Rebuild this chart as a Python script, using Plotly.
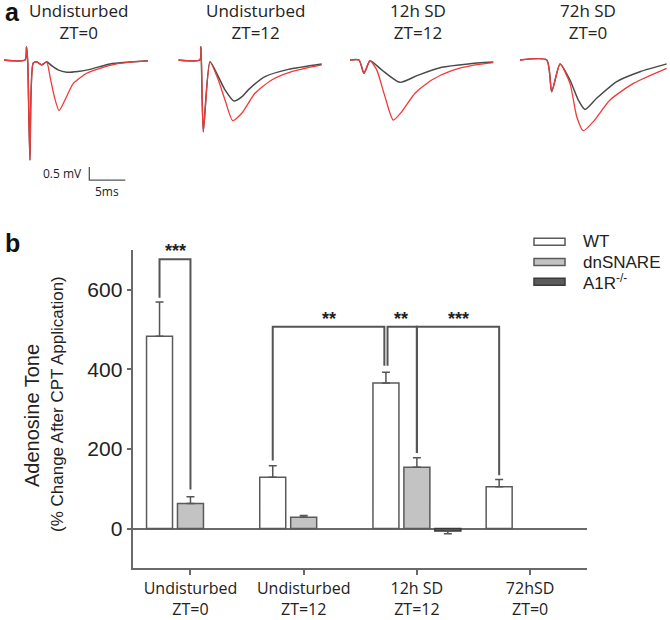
import plotly.graph_objects as go

W, H = 670, 620

# ---------------- panel b data ----------------
categories = ["Undisturbed<br>ZT=0", "Undisturbed<br>ZT=12", "12h SD<br>ZT=12", "72hSD<br>ZT=0"]
series_names = ["WT", "dnSNARE", "A1R<sup>-/-</sup>"]
wt_values = [483, 129, 366, 105]
wt_err = [86, 29, 27, 18]
dn_values = [63, 28, 154, None]
dn_err = [17, 5, 24, 0]
a1r_values = [None, None, -6, None]
a1r_err = [0, 0, 7, 0]
y_ticks = [0, 200, 400, 600]

# significance: (group_a, series_a, group_b, series_b, bar_top, drop_a, drop_b, label)
sig_brackets = [
    (0, 0, 0, 1, 677, 580, 98, "***"),
    (1, 0, 2, 0, 507, 171, 409, "**"),
    (2, 0, 2, 1, 507, 409, 190, "**"),
    (2, 1, 3, 0, 507, 190, 134, "***"),
]

# ---------------- panel a data (ms, mV) ----------------
p1_black_t = [0, 2.92, 3.13, 3.3, 3.6, 4.05, 4.54, 5.24, 5.93, 6.67, 7.5, 8.71, 10.28, 11.94, 14.72, 17.5, 20.0]
p1_black_v = [0, 0, 0.5, -0.1, -3.85, -0.12, -0.07, -0.19, -0.07, -0.23, -0.38, -0.47, -0.44, -0.36, -0.15, -0.08, -0.03]
p1_red_t = [0, 2.92, 3.13, 3.3, 3.6, 4.05, 4.54, 5.24, 5.93, 6.39, 6.99, 7.64, 8.47, 9.63, 11.49, 13.33, 15.65, 17.5, 20.0]
p1_red_v = [0, 0, 0.5, -0.1, -3.85, -0.12, -0.07, -0.19, -0.07, -0.64, -1.41, -1.95, -1.54, -0.9, -0.51, -0.32, -0.15, -0.08, -0.03]

p2_black_t = [0, 3.0, 3.15, 3.47, 4.4, 5.56, 6.49, 7.74, 8.81, 9.72, 12.04, 15.28, 19.92]
p2_black_v = [0, 0, 0.51, -2.76, -0.07, -0.64, -1.15, -1.58, -1.42, -1.15, -0.64, -0.36, -0.15]
p2_red_t = [0, 3.0, 3.15, 3.47, 4.4, 5.56, 6.49, 7.56, 8.81, 10.65, 12.97, 15.75, 19.92]
p2_red_v = [0, 0, 0.51, -2.76, -0.07, -0.77, -1.54, -2.33, -2.05, -1.28, -0.77, -0.45, -0.19]

p3_black_t = [0, 1.25, 1.94, 2.78, 4.4, 6.94, 9.49, 12.74, 16.43, 19.9]
p3_black_v = [0, 0, -0.51, -0.03, -0.38, -0.86, -0.58, -0.28, -0.15, -0.08]
p3_red_t = [0, 1.25, 1.94, 2.78, 3.71, 4.86, 6.01, 7.18, 9.03, 11.35, 14.13, 17.36, 19.9]
p3_red_v = [0, 0, -0.51, -0.03, -0.38, -1.41, -2.31, -1.99, -1.28, -0.77, -0.41, -0.19, -0.1]

p4_black_t = [0, 3.71, 4.4, 5.56, 6.94, 8.1, 9.03, 10.65, 13.43, 16.67, 20.38]
p4_black_v = [0, 0, -1.22, -0.15, -0.77, -1.54, -1.9, -1.47, -0.83, -0.45, -0.15]
p4_red_t = [0, 3.71, 4.4, 5.56, 6.94, 7.88, 8.79, 10.18, 12.5, 15.74, 20.38]
p4_red_v = [0, 0, -1.22, -0.15, -0.9, -2.18, -2.72, -2.37, -1.54, -0.9, -0.32]

trace_titles = ["Undisturbed<br>ZT=0", "Undisturbed<br>ZT=12", "12h SD<br>ZT=12", "72h SD<br>ZT=0"]
scale_ms = 5
scale_mv = 0.5
scale_origin = (11.85, -4.62)

# ---------------- helpers (px -> paper) ----------------
def px(x):
    return x / W

def py(y):
    return 1 - y / H

ARIAL = "Liberation Sans, Arial, sans-serif"
MYRIAD = "Open Sans, Noto Sans, sans-serif"
AXC = "#6a6a6a"
LINEC = "#555555"

fig = go.Figure()

# ---------------- bars ----------------
BARGAP = 0.18
BARGROUPGAP = 0.16
slot = (1 - BARGAP) / 3
offsets = [-slot, 0.0, slot]
xs = list(range(len(categories)))

fills = ["#ffffff", "#c3c3c3", "#5c5c5c"]
outlines = ["#5a5a5a", "#5a5a5a", "#3a3a3a"]
vals = [wt_values, dn_values, a1r_values]
errs = [wt_err, dn_err, a1r_err]
for k in range(3):
    up = [e if (v is not None and v >= 0) else 0 for v, e in zip(vals[k], errs[k])]
    dn = [e if (v is not None and v < 0) else 0 for v, e in zip(vals[k], errs[k])]
    fig.add_trace(go.Bar(
        x=xs, y=vals[k], name=series_names[k],
        marker=dict(color=fills[k], line=dict(color=outlines[k], width=1.5)),
        error_y=dict(type="data", symmetric=False, array=up, arrayminus=dn,
                     color=LINEC, thickness=1.5, width=4),
        xaxis="x", yaxis="y", showlegend=False,
    ))

# significance brackets
def bar_x(g, s):
    return g + offsets[s]

shapes = []
annotations = []
NUDGE = 0.014
for (ga, sa, gb, sb, top, da, db, lab) in sig_brackets:
    xa, xb = bar_x(ga, sa), bar_x(gb, sb)
    # doubled line on the 12h SD WT bar where two brackets meet
    if (ga, sa) == (2, 0):
        xa += NUDGE
    if (gb, sb) == (2, 0):
        xb -= NUDGE
    shapes.append(dict(type="path", xref="x", yref="y",
                       path=f"M {xa},{da} L {xa},{top} L {xb},{top} L {xb},{db}",
                       line=dict(color=LINEC, width=2)))
    annotations.append(dict(x=(bar_x(ga, sa) + bar_x(gb, sb)) / 2, y=top, xref="x", yref="y",
                            text=f"<b>{lab}</b>", showarrow=False, yanchor="bottom", yshift=-4,
                            font=dict(family=ARIAL, size=18, color="#222")))

# legend (custom wide swatches)
leg_y = [241.7, 262, 281.7]
for k in range(3):
    shapes.append(dict(type="rect", xref="paper", yref="paper",
                       x0=px(534), x1=px(565), y0=py(leg_y[k] + 3.5), y1=py(leg_y[k] - 3.5),
                       fillcolor=fills[k], line=dict(color=outlines[k], width=1.5)))
    annotations.append(dict(x=px(581), y=py(leg_y[k]), xref="paper", yref="paper",
                            text=series_names[k], showarrow=False, xanchor="left", yanchor="middle",
                            font=dict(family=ARIAL, size=17, color="#222")))

# y-axis titles
annotations.append(dict(x=px(32), y=py(416), xref="paper", yref="paper", text="Adenosine Tone",
                        textangle=-90, showarrow=False, xanchor="center", yanchor="middle",
                        font=dict(family=ARIAL, size=20, color="#222")))
annotations.append(dict(x=px(57), y=py(404), xref="paper", yref="paper",
                        text="(% Change After CPT Application)", xanchor="center", yanchor="middle",
                        textangle=-90, showarrow=False, font=dict(family=ARIAL, size=17, color="#222")))

# panel letters
annotations.append(dict(x=px(3), y=py(0), xref="paper", yref="paper", text="<b>a</b>", showarrow=False,
                        xanchor="left", yanchor="top", yshift=4,
                        font=dict(family=ARIAL, size=25, color="#111")))
annotations.append(dict(x=px(3), y=py(243), xref="paper", yref="paper", text="<b>b</b>", showarrow=False,
                        xanchor="left", yanchor="middle", font=dict(family=ARIAL, size=25, color="#111")))

# ---------------- traces (panel a) ----------------
PXMS = 7.2
XR = 20.4
panel_left = [4, 178.3, 350, 520]
trace_sets = [
    (p1_black_t, p1_black_v, p1_red_t, p1_red_v),
    (p2_black_t, p2_black_v, p2_red_t, p2_red_v),
    (p3_black_t, p3_black_v, p3_red_t, p3_red_v),
    (p4_black_t, p4_black_v, p4_red_t, p4_red_v),
]
for i, (bt, bv, rt, rv) in enumerate(trace_sets):
    xa = f"x{i + 2}"
    fig.add_trace(go.Scatter(x=bt, y=bv, mode="lines", xaxis=xa, yaxis="y2",
                             line=dict(color="#4a4a4a", width=1.5, shape="spline", smoothing=0.6),
                             showlegend=False, hoverinfo="skip"))
    fig.add_trace(go.Scatter(x=rt, y=rv, mode="lines", xaxis=xa, yaxis="y2",
                             line=dict(color="#f03a3a", width=1.3, shape="spline", smoothing=0.6),
                             showlegend=False, hoverinfo="skip"))

# scale bar
sx, sy = scale_origin
fig.add_trace(go.Scatter(x=[sx, sx, sx + scale_ms], y=[sy + scale_mv, sy, sy], mode="lines",
                         xaxis="x2", yaxis="y2", line=dict(color="#555", width=1.3),
                         showlegend=False, hoverinfo="skip"))
annotations.append(dict(x=sx - 0.8, y=sy + scale_mv / 2, xref="x2", yref="y2", text=f"{scale_mv} mV",
                        showarrow=False, xanchor="right", yanchor="middle",
                        font=dict(family=MYRIAD, size=12, color="#222")))
annotations.append(dict(x=sx + scale_ms / 2, y=sy, xref="x2", yref="y2", text=f"{scale_ms:g}ms",
                        showarrow=False, xanchor="center", yanchor="top", yshift=-1,
                        font=dict(family=MYRIAD, size=12, color="#222")))

title_cx = [78.5, 255.5, 418, 588]
for i in range(4):
    annotations.append(dict(x=px(title_cx[i]), y=py(21), xref="paper", yref="paper",
                            text=trace_titles[i], showarrow=False, xanchor="center", yanchor="middle",
                            font=dict(family=MYRIAD, size=17, color="#222")))

layout_axes = {}
for i in range(4):
    l = panel_left[i]
    layout_axes[f"xaxis{i + 2}"] = dict(domain=[max(0, px(l)), min(1, px(l + XR * PXMS))],
                                        range=[0, XR], anchor="y2", visible=False, fixedrange=True)
Y2_LO, Y2_HI = -4.8, 1.0
y2_top_px = 60 - Y2_HI * 26
y2_bot_px = 60 - Y2_LO * 26
layout_axes["yaxis2"] = dict(domain=[py(y2_bot_px), py(y2_top_px)], range=[Y2_LO, Y2_HI],
                             anchor="x2", visible=False, fixedrange=True)

fig.update_layout(
    width=W, height=H,
    margin=dict(l=0, r=0, t=0, b=0),
    paper_bgcolor="white", plot_bgcolor="white",
    barmode="group", bargap=BARGAP, bargroupgap=BARGROUPGAP,
    xaxis=dict(domain=[px(133.3), px(586.7)], range=[-0.505, 3.5],
               tickvals=xs, ticktext=categories, ticks="outside", ticklen=5, tickwidth=1.5,
               tickcolor=AXC, showline=True, linecolor=AXC, linewidth=1.5, showgrid=False,
               zeroline=False, anchor="y",
               tickfont=dict(family=MYRIAD, size=16, color="#222")),
    yaxis=dict(domain=[py(568.3), py(250)], range=[-100, 700], tickvals=y_ticks,
               ticks="outside", ticklen=5, tickwidth=1.5, tickcolor=AXC,
               showline=True, linecolor=AXC, linewidth=1.5, showgrid=False,
               zeroline=True, zerolinecolor=AXC, zerolinewidth=1.5, anchor="x",
               tickfont=dict(family=ARIAL, size=21, color="#222")),
    shapes=shapes, annotations=annotations,
    showlegend=False,
    **layout_axes,
)

# place the 670x620 figure flush with the window's top-left corner
fig.write_html("out.html", config={"displayModeBar": False},
               post_script="document.body.style.margin='0px';")
